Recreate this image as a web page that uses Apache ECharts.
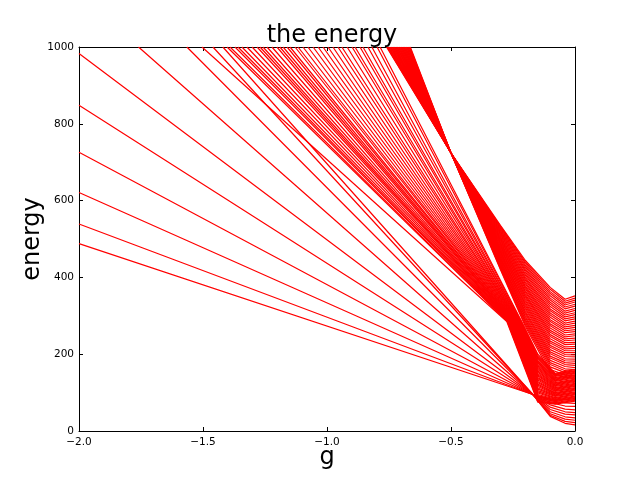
<!DOCTYPE html>
<html>
<head>
<meta charset="utf-8">
<title>the energy</title>
<script src="https://cdn.jsdelivr.net/npm/echarts@6/dist/echarts.min.js"></script>
<style>
  html, body { margin: 0; padding: 0; background: #fff; }
  #chart { width: 640px; height: 480px; }
</style>
</head>
<body>
<div id="chart"></div>
<script>
// axis ticks
const xTicks = [-2, -1.5, -1, -0.5, 0];
const xTickLabels = ['\u22122.0', '\u22121.5', '\u22121.0', '\u22120.5', '0.0'];
const yTicks = [0, 200, 400, 600, 800, 1000];
const yTickLabels = ['0', '200', '400', '600', '800', '1000'];

// lower fan: straight lines that all cross near P1, then bend flat towards g = 0
const P1 = [-0.17, 95];
const fanAStartG = [-2, -2, -2, -2, -2, -2, -1.76, -1.565, -1.46, -1.42];
const fanAStartE = [488, 539, 621, 726, 848, 983, 1000, 1000, 1000, 1000];
const fanASampleG = [-0.1, -0.04, 0];
const fanAE010 = [83, 79, 74, 68, 62, 56, 50, 45, 41, 38];
const fanAE004 = [81, 73, 65, 57, 50, 44, 37, 31, 25, 20];
const fanAE000 = [81, 72, 64, 55, 48, 42, 34, 28, 22, 16];

// upper fan: lines from the top edge squeezing through a waist near E = 285
const fanBTopG = [-1.504, -1.403, -1.391, -1.371, -1.359, -1.343, -1.323, -1.302, -1.282, -1.270,
  -1.258, -1.242, -1.222, -1.202, -1.190, -1.177, -1.161, -1.149, -1.129, -1.117,
  -1.097, -1.077, -1.056, -1.036, -1.016, -0.996, -0.976, -0.956, -0.940, -0.919,
  -0.899, -0.887, -0.867, -0.855, -0.835, -0.819, -0.798, -0.786];
const fanBWaistE = 285;
const fanBWaistG = [-0.275, -0.273, -0.272, -0.270, -0.269, -0.267, -0.265, -0.264, -0.262, -0.260,
  -0.259, -0.257, -0.256, -0.254, -0.252, -0.251, -0.249, -0.248, -0.246, -0.244,
  -0.243, -0.241, -0.240, -0.238, -0.236, -0.235, -0.233, -0.231, -0.230, -0.228,
  -0.227, -0.225, -0.223, -0.222, -0.220, -0.219, -0.217, -0.215];
const fanBSampleG = [-0.15, -0.08, 0];
const fanBE015 = [75, 78, 82, 85, 89, 92, 95, 99, 102, 105, 109, 112, 116, 119, 122, 126, 129, 133, 136, 139,
  143, 146, 149, 153, 156, 160, 163, 166, 170, 173, 177, 180, 183, 187, 190, 193, 197, 200];
const fanBE008 = [70, 72, 74, 77, 79, 81, 83, 85, 87, 90, 92, 94, 96, 98, 100, 103, 105, 107, 109, 111,
  113, 116, 118, 120, 122, 124, 126, 129, 131, 133, 135, 137, 139, 142, 144, 146, 148, 150];
const fanBE000 = [78, 80, 82, 85, 87, 89, 91, 94, 96, 98, 100, 102, 105, 107, 109, 111, 113, 116, 118, 120,
  122, 124, 127, 129, 131, 133, 135, 138, 140, 142, 144, 146, 149, 151, 153, 155, 157, 160];

// dense band: enters at the top near g = -0.7, pinches at the waist, spreads to g = 0
const bandTopG = [-0.760, -0.758, -0.755, -0.753, -0.751, -0.748, -0.745, -0.743, -0.741, -0.738,
  -0.735, -0.733, -0.730, -0.728, -0.726, -0.723, -0.720, -0.718, -0.716, -0.713,
  -0.710, -0.708, -0.705, -0.703, -0.700, -0.698, -0.695, -0.693, -0.690, -0.688,
  -0.685, -0.683, -0.680, -0.678, -0.675, -0.673, -0.670, -0.668, -0.666, -0.664];
const bandWaist = [-0.5, 724];
const bandSampleG = [-0.3, -0.2, -0.1, -0.04, 0];
const bandE030 = [535, 532, 530, 527, 524, 521, 518, 515, 512, 509, 506, 503, 500, 497, 494, 491, 488, 485, 482, 479,
  476, 473, 470, 467, 464, 461, 458, 455, 452, 449, 446, 443, 440, 437, 434, 431, 428, 425, 422, 419];
const bandE020 = [444, 440, 436, 431, 427, 422, 418, 414, 409, 405, 400, 396, 392, 387, 383, 378, 374, 370, 365, 361,
  356, 352, 348, 343, 339, 334, 330, 326, 321, 317, 312, 308, 304, 299, 295, 290, 286, 282, 277, 272];
const bandE010 = [374, 369, 363, 358, 352, 346, 341, 335, 330, 324, 318, 313, 307, 302, 296, 290, 285, 279, 274, 268,
  262, 257, 251, 246, 240, 234, 229, 223, 218, 212, 206, 201, 195, 190, 184, 178, 173, 167, 160, 152];
const bandE004 = [343, 338, 333, 328, 323, 318, 312, 307, 302, 297, 292, 287, 281, 276, 271, 266, 261, 256, 250, 245,
  240, 235, 230, 225, 219, 214, 209, 204, 199, 194, 188, 183, 178, 173, 168, 162, 157, 152, 146, 140];
const bandE000 = [352, 346, 341, 336, 330, 325, 319, 314, 308, 303, 297, 292, 286, 281, 275, 270, 264, 259, 253, 248,
  242, 237, 231, 226, 220, 215, 209, 204, 198, 193, 187, 182, 176, 171, 165, 160, 154, 149, 143, 137];

const RED = '#ff0000';
const FONT = 'DejaVu Sans';

const lineSeries = (data) => ({
  type: 'line',
  data: data,
  color: RED,
  symbol: 'none',
  showSymbol: false,
  silent: true,
  clip: true,
  itemStyle: { color: RED },
  lineStyle: { color: RED, width: 1.2 },
  emphasis: { disabled: true }
});

let series = [];
fanAStartG.forEach((g, i) => {
  series.push(lineSeries([
    [g, fanAStartE[i]], P1,
    [fanASampleG[0], fanAE010[i]], [fanASampleG[1], fanAE004[i]], [fanASampleG[2], fanAE000[i]]
  ]));
});
fanBTopG.forEach((g, i) => {
  series.push(lineSeries([
    [g, 1000], [fanBWaistG[i], fanBWaistE],
    [fanBSampleG[0], fanBE015[i]], [fanBSampleG[1], fanBE008[i]], [fanBSampleG[2], fanBE000[i]]
  ]));
});
bandTopG.forEach((g, i) => {
  series.push(lineSeries([
    [g, 1000], bandWaist,
    [bandSampleG[0], bandE030[i]], [bandSampleG[1], bandE020[i]], [bandSampleG[2], bandE010[i]],
    [bandSampleG[3], bandE004[i]], [bandSampleG[4], bandE000[i]]
  ]));
});

const tickLabel = (ticks, labels) => (v) => {
  const k = ticks.findIndex(t => Math.abs(t - v) < 1e-9);
  return k >= 0 ? labels[k] : '';
};

const axisCommon = {
  type: 'value',
  splitLine: { show: false },
  axisLine: { show: true, onZero: false, lineStyle: { color: '#000', width: 1 } },
  axisTick: { show: true, inside: true, length: 4, lineStyle: { color: '#000', width: 1 } }
};

const myChart = echarts.init(document.getElementById('chart'), null, { renderer: 'canvas' });

const option = {
  animation: false,
  backgroundColor: '#fff',
  tooltip: { show: false },
  title: {
    text: 'the energy',
    left: 327,
    textAlign: 'center',
    top: 19,
    textStyle: { fontFamily: FONT, fontSize: 24, fontWeight: 'normal', color: '#000' }
  },
  grid: { left: 79, right: 65, top: 47, bottom: 49, containLabel: false, outerBoundsMode: 'none' },
  xAxis: [
    Object.assign({}, axisCommon, {
      min: -2, max: 0, interval: 0.5, position: 'bottom',
      name: 'g', nameLocation: 'middle', nameGap: 15, nameMoveOverlap: false,
      nameTextStyle: { fontFamily: FONT, fontSize: 24, color: '#000' },
      axisLabel: { fontFamily: FONT, fontSize: 10.5, color: '#000', margin: 6, formatter: tickLabel(xTicks, xTickLabels) }
    }),
    Object.assign({}, axisCommon, {
      min: -2, max: 0, interval: 0.5, position: 'top',
      axisLabel: { show: false }
    })
  ],
  yAxis: [
    Object.assign({}, axisCommon, {
      min: 0, max: 1000, interval: 200, position: 'left',
      name: 'energy', nameLocation: 'middle', nameGap: 34, nameRotate: 90, nameMoveOverlap: false,
      nameTextStyle: { fontFamily: FONT, fontSize: 24, color: '#000' },
      axisLabel: { fontFamily: FONT, fontSize: 10.5, color: '#000', margin: 5, formatter: tickLabel(yTicks, yTickLabels) }
    }),
    Object.assign({}, axisCommon, {
      min: 0, max: 1000, interval: 200, position: 'right',
      axisLabel: { show: false }
    })
  ],
  series: series
};

option && myChart.setOption(option);
</script>
</body>
</html>
